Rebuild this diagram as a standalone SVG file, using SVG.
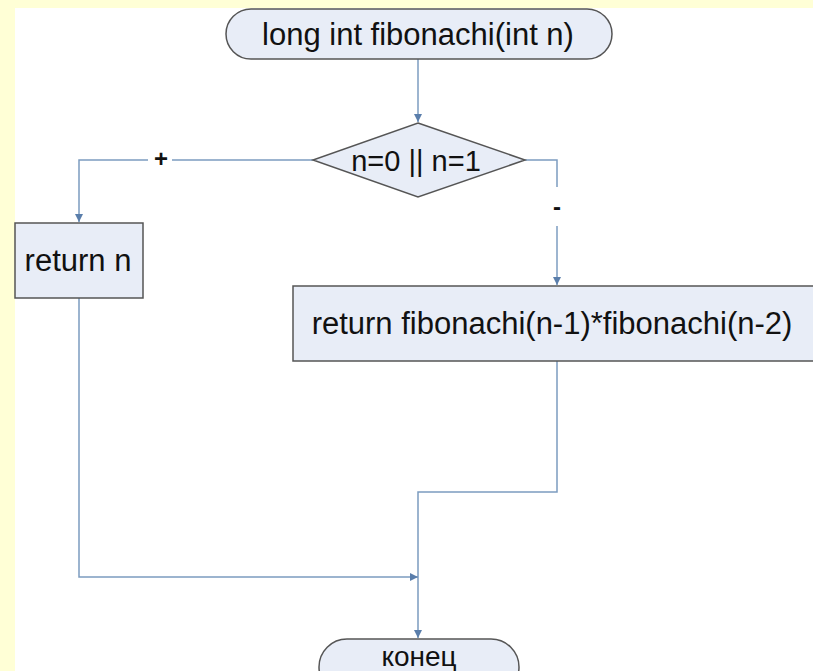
<svg xmlns="http://www.w3.org/2000/svg" width="813" height="671" viewBox="0 0 813 671">
<style>
.node{fill:#e8edf7;stroke:#555;stroke-width:1.5}
.t{font-family:"Liberation Sans",Arial,sans-serif;font-size:31px;fill:#111;text-anchor:middle}
.c{fill:none;stroke:#7c9cc0;stroke-width:1.5}
.lbl{font-family:"Liberation Sans",Arial,sans-serif;font-size:24px;font-weight:bold;fill:#111;text-anchor:middle}
</style>
<defs>
<marker id="ah" viewBox="0 0 10 10" refX="10" refY="5" markerWidth="8" markerHeight="8" markerUnits="userSpaceOnUse" orient="auto">
<path d="M0,0 L10,5 L0,10 z" fill="#5a7eab"/>
</marker>
</defs>
<rect x="0" y="0" width="813" height="671" fill="#ffffff"/>
<rect x="0" y="0" width="813" height="8" fill="#ffffd6"/>
<rect x="0" y="0" width="15" height="671" fill="#ffffd6"/>
<g id="connectors">
<path class="c" d="M418,59 V122" marker-end="url(#ah)"/>
<path class="c" d="M313,160 H79 V222" marker-end="url(#ah)"/>
<path class="c" d="M525,160 H557 V187"/>
<path class="c" d="M557,226 V285" marker-end="url(#ah)"/>
<path class="c" d="M557,361 V492 H418 V638" marker-end="url(#ah)"/>
<path class="c" d="M79,298 V577 H418" marker-end="url(#ah)"/>
<rect x="148" y="150" width="24" height="18" fill="#fff"/>
<text class="lbl" x="161" y="167">+</text>
<text class="lbl" x="557" y="215">-</text>
</g>
<g id="start">
<rect class="node" x="226" y="9" width="386" height="50" rx="25" ry="25"/>
<text class="t" x="418" y="45">long int fibonachi(int n)</text>
</g>
<g id="decision">
<polygon class="node" points="418,123 525,160 418,197 313,160"/>
<text class="t" x="416" y="171" style="font-size:29px">n=0 || n=1</text>
</g>
<g id="return-n">
<rect class="node" x="15" y="223" width="128" height="75"/>
<text class="t" x="78" y="271">return n</text>
</g>
<g id="return-fib">
<rect class="node" x="293" y="286" width="530" height="75"/>
<text class="t" x="552" y="334">return fibonachi(n-1)*fibonachi(n-2)</text>
</g>
<g id="end">
<rect class="node" x="319" y="639" width="200" height="56" rx="28" ry="28"/>
<text class="t" x="419" y="666" style="font-size:28px">конец</text>
</g>
</svg>
